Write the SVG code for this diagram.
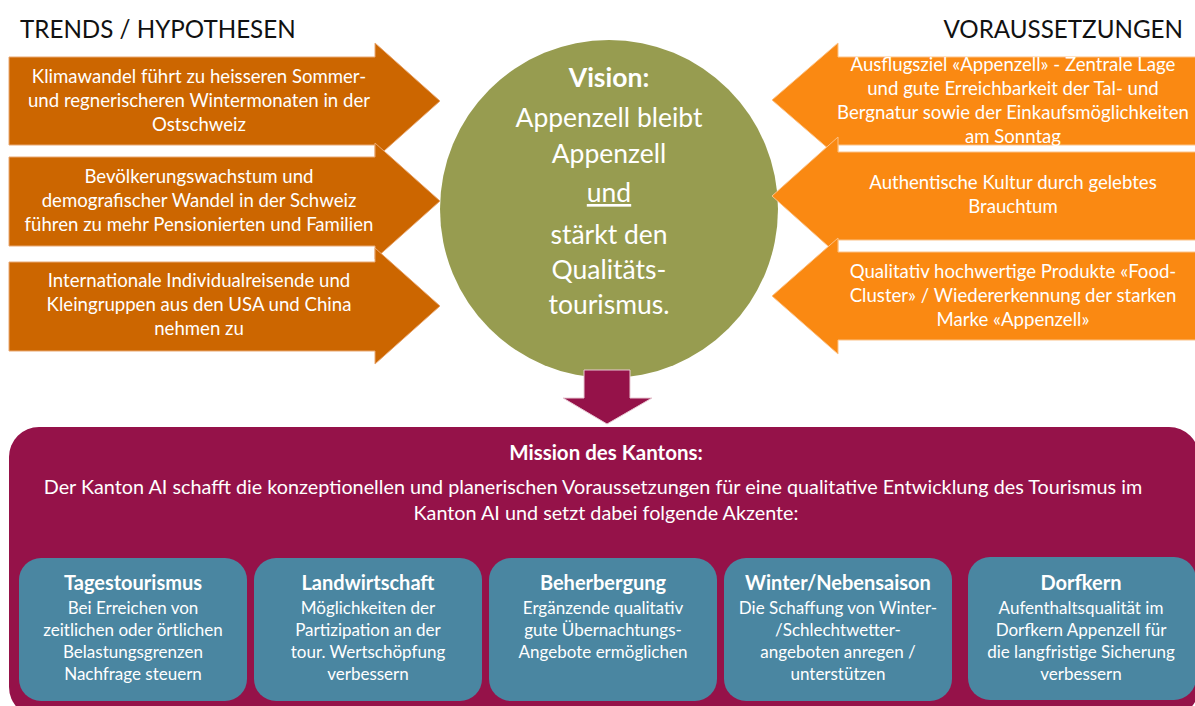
<svg xmlns="http://www.w3.org/2000/svg" width="1195" height="706" viewBox="0 0 1195 706">
<style>
text{font-family:Lato,"Open Sans","Liberation Sans",sans-serif;fill:#fff;text-anchor:middle}
.hd{fill:#111;font-size:24.2px;text-anchor:start}
.la{fill:#CC6600;stroke:#e9a873;stroke-width:1}
.ra{fill:#FA8912;stroke:#fcc287;stroke-width:1}
.at{font-size:18.6px}
.ct{font-size:26.5px}
.mt{font-size:19.8px}
.bx{fill:#4A86A1}
.bt{font-size:20px;font-weight:bold}
.bb{font-size:17px}
</style>
<rect width="1195" height="706" fill="#fff"/>
<text class="hd" x="20" y="38">TRENDS / HYPOTHESEN</text>
<text class="hd" x="1183" y="38" style="text-anchor:end">VORAUSSETZUNGEN</text>

<g id="trend1">
<polygon class="la" points="9,57 375,57 375,43 440,101 375,159 375,145 9,145"/>
<text class="at" x="199" y="83">Klimawandel führt zu heisseren Sommer-</text>
<text class="at" x="199" y="107">und regnerischeren Wintermonaten in der</text>
<text class="at" x="199" y="131">Ostschweiz</text>
</g>
<g id="trend2">
<polygon class="la" points="9,157 375,157 375,143 440,201 375,259 375,246 9,246"/>
<text class="at" x="199" y="183">Bevölkerungswachstum und</text>
<text class="at" x="199" y="207">demografischer Wandel in der Schweiz</text>
<text class="at" x="199" y="231">führen zu mehr Pensionierten und Familien</text>
</g>
<g id="trend3">
<polygon class="la" points="9,262 375,262 375,248 440,306 375,364 375,351 9,351"/>
<text class="at" x="199" y="287">Internationale Individualreisende und</text>
<text class="at" x="199" y="311">Kleingruppen aus den USA und China</text>
<text class="at" x="199" y="335">nehmen zu</text>
</g>

<g id="vision">
<circle cx="609" cy="209" r="169" fill="#979C50"/>
<text x="609" y="87" style="font-size:26.5px;font-weight:bold">Vision:</text>
<text class="ct" x="609" y="127">Appenzell bleibt</text>
<text class="ct" x="609" y="163">Appenzell</text>
<text class="ct" x="609" y="202" text-decoration="underline">und</text>
<text class="ct" x="609" y="244">stärkt den</text>
<text class="ct" x="609" y="279">Qualitäts-</text>
<text class="ct" x="609" y="314">tourismus.</text>
</g>

<g id="pre1">
<polygon class="ra" points="1196,57 838,57 838,43 772,100 838,157 838,145 1196,145"/>
<text class="at" x="1013" y="71">Ausflugsziel «Appenzell» - Zentrale Lage</text>
<text class="at" x="1013" y="95">und gute Erreichbarkeit der Tal- und</text>
<text class="at" x="1013" y="119">Bergnatur sowie der Einkaufsmöglichkeiten</text>
<text class="at" x="1013" y="143">am Sonntag</text>
</g>
<g id="pre2">
<polygon class="ra" points="1196,152 838,152 838,137 772,196 838,255 838,240 1196,240"/>
<text class="at" x="1013" y="189">Authentische Kultur durch gelebtes</text>
<text class="at" x="1013" y="213">Brauchtum</text>
</g>
<g id="pre3">
<polygon class="ra" points="1196,252 838,252 838,238 772,296 838,354 838,340 1196,340"/>
<text class="at" x="1013" y="278">Qualitativ hochwertige Produkte «Food-</text>
<text class="at" x="1013" y="302">Cluster» / Wiedererkennung der starken</text>
<text class="at" x="1013" y="326">Marke «Appenzell»</text>
</g>

<g id="connectors">
<polygon points="584,370 630,370 630,398 652,398 607,424 563,398 584,398" fill="#951249" stroke="#e8c9d3" stroke-width="1"/>
</g>

<g id="mission">
<rect x="9" y="427" width="1190" height="290" rx="30" fill="#951249"/>
<text x="606" y="460" style="font-size:20.5px;font-weight:bold">Mission des Kantons:</text>
<text class="mt" x="593" y="494">Der Kanton AI schafft die konzeptionellen und planerischen Voraussetzungen für eine qualitative Entwicklung des Tourismus im</text>
<text class="mt" x="606" y="520">Kanton AI und setzt dabei folgende Akzente:</text>
</g>

<g id="tages">
<rect class="bx" x="19" y="558" width="228" height="143" rx="22"/>
<text class="bt" x="133" y="590">Tagestourismus</text>
<text class="bb" x="133" y="614">Bei Erreichen von</text>
<text class="bb" x="133" y="636">zeitlichen oder örtlichen</text>
<text class="bb" x="133" y="658">Belastungsgrenzen</text>
<text class="bb" x="133" y="680">Nachfrage steuern</text>
</g>
<g id="landw">
<rect class="bx" x="254" y="558" width="228" height="143" rx="22"/>
<text class="bt" x="368" y="590">Landwirtschaft</text>
<text class="bb" x="368" y="614">Möglichkeiten der</text>
<text class="bb" x="368" y="636">Partizipation  an der</text>
<text class="bb" x="368" y="658">tour. Wertschöpfung</text>
<text class="bb" x="368" y="680">verbessern</text>
</g>
<g id="beherb">
<rect class="bx" x="489" y="558" width="228" height="143" rx="22"/>
<text class="bt" x="603" y="590">Beherbergung</text>
<text class="bb" x="603" y="614">Ergänzende qualitativ</text>
<text class="bb" x="603" y="636">gute Übernachtungs-</text>
<text class="bb" x="603" y="658">Angebote ermöglichen</text>
</g>
<g id="winter">
<rect class="bx" x="724" y="558" width="228" height="143" rx="22"/>
<text class="bt" x="838" y="590">Winter/Nebensaison</text>
<text class="bb" x="838" y="614">Die Schaffung von Winter-</text>
<text class="bb" x="838" y="636">/Schlechtwetter-</text>
<text class="bb" x="838" y="658">angeboten anregen /</text>
<text class="bb" x="838" y="680">unterstützen</text>
</g>
<g id="dorf">
<rect class="bx" x="968" y="557" width="228" height="143" rx="22"/>
<text class="bt" x="1081" y="590">Dorfkern</text>
<text class="bb" x="1081" y="614">Aufenthaltsqualität im</text>
<text class="bb" x="1081" y="636">Dorfkern Appenzell für</text>
<text class="bb" x="1081" y="658">die langfristige Sicherung</text>
<text class="bb" x="1081" y="680">verbessern</text>
</g>
</svg>
